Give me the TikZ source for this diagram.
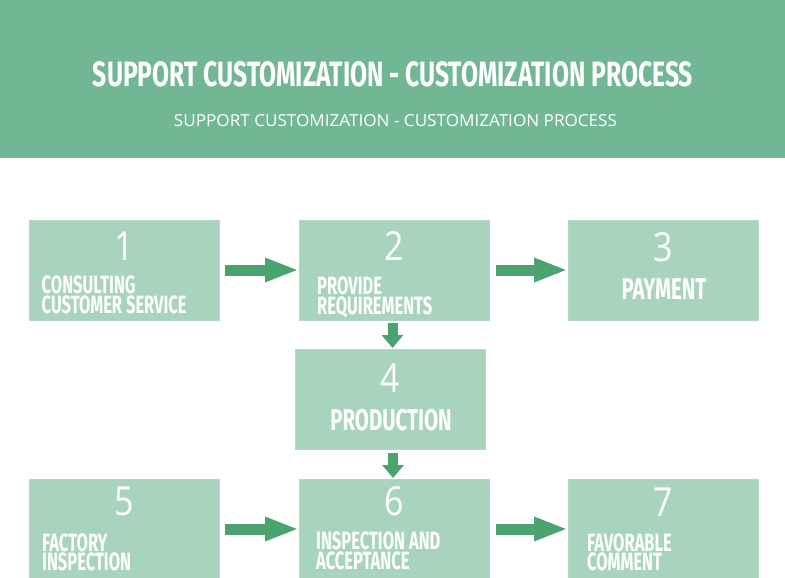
\documentclass[tikz,border=0pt]{standalone}
\usepackage{fontspec}
\usepackage{graphicx}
\usetikzlibrary{arrows.meta,calc}
\newfontfamily\labfont[FakeStretch=0.66]{Fira Sans}
\newfontfamily\bigfont[FakeStretch=0.68]{Fira Sans}
\newfontfamily\numfont[FakeStretch=0.85]{Open Sans}
\newfontfamily\subfont{Open Sans}
\definecolor{hdr}{HTML}{72B794}
\definecolor{boxc}{HTML}{A8D4BE}
\definecolor{boxedge}{HTML}{B3D9C5}
\definecolor{arrc}{HTML}{4BA470}
\tikzset{
  box/.style={fill=boxc, draw=boxedge, line width=0.8pt, minimum width=190pt, minimum height=100pt, inner sep=0pt, outer sep=0pt},
  num/.style={font=\numfont\fontsize{40}{40}\selectfont, text=white, inner sep=0pt},
  lab/.style={font=\labfont\bfseries\fontsize{25}{17.5}\selectfont, text=white, inner sep=0pt, align=left, anchor=north west},
  biglab/.style={font=\bigfont\bfseries\fontsize{30}{30}\selectfont, text=white, inner sep=0pt},
  harr/.style={draw=arrc, line width=11pt, -{Triangle[length=34pt,width=22pt]}},
  varr/.style={draw=arrc, line width=10pt, -{Triangle[length=13pt,width=21pt]}}
}
\begin{document}
\begin{tikzpicture}[x=1pt,y=-1pt]
\useasboundingbox (0,0) rectangle (785,578);
\clip (0,0) rectangle (785,578);
\fill[white] (0,0) rectangle (785,578);
\fill[hdr] (0,0) rectangle (785,158);
\node[inner sep=0pt, text=white] (title) at (393,74.5) {\resizebox{600pt}{25pt}{\labfont\bfseries SUPPORT CUSTOMIZATION - CUSTOMIZATION PROCESS}};
\node[inner sep=0pt, text=white] (sub) at (395.5,121) {\resizebox{443pt}{12pt}{\subfont SUPPORT CUSTOMIZATION - CUSTOMIZATION PROCESS}};

\node[box] (b1) at (124,270) {};
\node[box] (b2) at (394,270) {};
\node[box] (b3) at (663,270) {};
\node[box] (b4) at (390,399) {};
\node[box] (b5) at (124,529) {};
\node[box] (b6) at (394,529) {};
\node[box] (b7) at (663,529) {};

\node[num] (n1) at ($(b1.north)+(0,26.5)$) {1};
\node[num] (n2) at ($(b2.north)+(0,26)$) {2};
\node[num] (n3) at ($(b3.north)+(0,27)$) {3};
\node[num] (n4) at ($(b4.north)+(0,29)$) {4};
\node[num] (n5) at ($(b5.north)+(0,22)$) {5};
\node[num] (n6) at ($(b6.north)+(0,22)$) {6};
\node[num] (n7) at ($(b7.north)+(0,23)$) {7};

\node[lab] (l1) at ($(b1.north west)+(12.5,56)$) {CONSULTING\\CUSTOMER SERVICE};
\node[lab] (l2) at ($(b2.north west)+(18,57)$) {PROVIDE\\REQUIREMENTS};
\node[biglab] (l3) at ($(b3.north)+(1,69)$) {PAYMENT};
\node[biglab] (l4) at ($(b4.north)+(1,71)$) {PRODUCTION};
\node[lab] (l5) at ($(b5.north west)+(13,54.5)$) {FACTORY\\INSPECTION};
\node[lab] (l6) at ($(b6.north west)+(17,53)$) {INSPECTION AND\\ACCEPTANCE};
\node[lab] (l7) at ($(b7.north west)+(19,54.5)$) {FAVORABLE\\COMMENT};

\draw[harr, shorten <=6pt] (b1.east) -- (b2.west);
\draw[harr, shorten <=7pt] (b2.east) -- (b3.west);
\draw[harr, shorten <=6pt] (b5.east) -- (b6.west);
\draw[harr, shorten <=7pt] (b6.east) -- (b7.west);
\draw[varr, shorten <=3pt, shorten >=1pt] ([xshift=-1.5pt]b2.south) -- ([xshift=2.5pt]b4.north);
\draw[varr, shorten <=4pt, shorten >=1pt] ([xshift=3pt]b4.south) -- ([xshift=-1pt]b6.north);
\end{tikzpicture}
\end{document}
